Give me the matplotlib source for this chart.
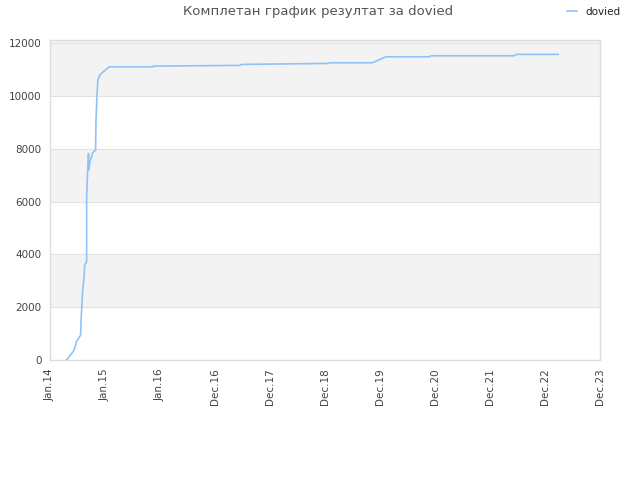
import matplotlib
matplotlib.use("Agg")
import matplotlib.pyplot as plt

# time in years since Jan 2014 (axis is evenly spaced by tick index)
x_vals = [0.30, 0.42, 0.45, 0.48, 0.557, 0.565, 0.58, 0.59, 0.60, 0.62, 0.63, 0.666,
          0.666, 0.685, 0.70, 0.71, 0.725, 0.755, 0.775, 0.829, 0.835, 0.853, 0.87,
          0.907, 0.967, 1.077, 1.875, 1.88, 3.45, 3.48, 5.05, 5.09, 5.86, 6.11, 6.90,
          6.93, 8.44, 8.47, 9.24]
y_vals = [0, 314, 443, 693, 947, 1515, 2083, 2525, 2777, 3155, 3598, 3725,
          6187, 7197, 7830, 7197, 7512, 7700, 7853, 7955, 8966, 9973, 10606,
          10795, 10920, 11110, 11110, 11136, 11163, 11200, 11238, 11262, 11262, 11489, 11489,
          11527, 11527, 11580, 11580]

tick_labels = ["Jan.14", "Jan.15", "Jan.16", "Dec.16", "Dec.17", "Dec.18",
               "Dec.19", "Dec.20", "Dec.21", "Dec.22", "Dec.23"]
y_ticks = [0, 2000, 4000, 6000, 8000, 10000, 12000]
series_name = "dovied"
title = "Комплетан график резултат за dovied"

fig = plt.figure(figsize=(6.4, 4.8), dpi=100)
ax = fig.add_axes([50/640, 120/480, 550/640, 320/480])
ymax = 12125
ax.set_xlim(0, 10)
ax.set_ylim(0, ymax)

# alternating bands
bands = [(2000, 4000), (6000, 8000), (10000, ymax)]
for lo, hi in bands:
    ax.axhspan(lo, hi, color="#f3f3f3", zorder=0, lw=0)
for yt in y_ticks[1:]:
    ax.axhline(yt, color="#e2e2e2", lw=0.8, zorder=1)

line, = ax.plot(x_vals, y_vals, color="#90c2f4", lw=1.2, zorder=3, label=series_name)

ax.set_xticks(range(len(tick_labels)))
ax.set_xticklabels(tick_labels, rotation=90, fontsize=7.5, color="#444444")
ax.set_yticks(y_ticks)
ax.set_yticklabels([str(v) for v in y_ticks], fontsize=7.5, color="#444444")
ax.tick_params(length=0, pad=6)
for s in ax.spines.values():
    s.set_color("#dddddd")
    s.set_linewidth(1)

fig.text(318/640, 1 - 12/480, title, ha="center", va="center", fontsize=9.5, color="#555555")
leg = fig.legend(handles=[line], labels=[series_name], loc="center right",
                 bbox_to_anchor=(630/640, 1 - 12/480), frameon=False, fontsize=7.5,
                 handlelength=1.0, handletextpad=0.8)
for t in leg.get_texts():
    t.set_color("#222222")

fig.savefig("out.png", dpi=100)
